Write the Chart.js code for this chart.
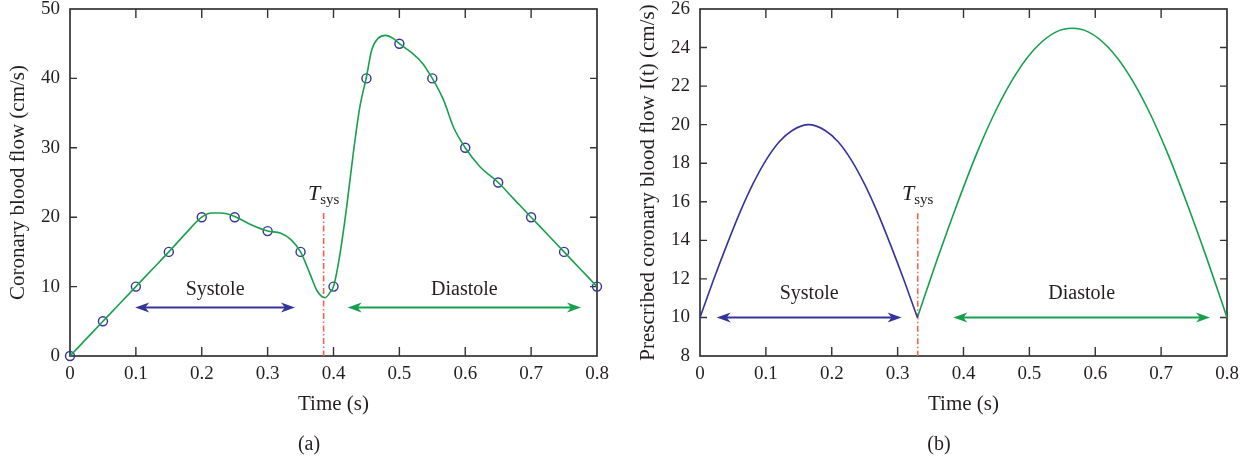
<!DOCTYPE html>
<html>
<head>
<meta charset="utf-8">
<script src="https://cdn.jsdelivr.net/npm/chart.js@4/dist/chart.umd.min.js"></script>
<style>
  html, body { margin: 0; padding: 0; background: #fff; }
  #wrap { position: relative; width: 1253px; height: 463px; }
  canvas { position: absolute; top: 0; }
</style>
</head>
<body>
<div id="wrap">
  <canvas id="chartA" width="626" height="463" style="left:0"></canvas>
  <canvas id="chartB" width="627" height="463" style="left:626px"></canvas>
</div>
<script>
'use strict';

// (a) measured samples
const sampleTime = [0, 0.05, 0.1, 0.15, 0.2, 0.25, 0.3, 0.35, 0.4, 0.45, 0.5, 0.55, 0.6, 0.65, 0.7, 0.75, 0.8];
const sampleFlow = [0, 5, 10, 15, 20, 20, 18, 15, 10, 40, 45, 40, 30, 25, 20, 15, 10];

// (a) fitted curve
const curveTime = [0, 0.025, 0.05, 0.075, 0.1, 0.125, 0.15, 0.175, 0.2, 0.215, 0.23, 0.25, 0.275, 0.3, 0.32, 0.335,
  0.35, 0.364, 0.375, 0.387, 0.395, 0.4, 0.41, 0.42, 0.43, 0.44, 0.45, 0.458, 0.468, 0.479, 0.49, 0.5,
  0.52, 0.535, 0.55, 0.567, 0.582, 0.6, 0.622, 0.65, 0.675, 0.7, 0.725, 0.75, 0.775, 0.8];
const curveFlow = [0, 2.5, 5, 7.5, 10, 12.5, 15, 17.6, 20, 20.6, 20.6, 20.1, 18.9, 18, 17.7, 16.8,
  15, 11.9, 9.4, 8.4, 9.2, 10, 14.8, 21.5, 29.2, 35.9, 40.2, 44.1, 45.8, 46.2, 45.8, 45,
  43.6, 42.2, 40, 36.9, 33, 30, 27.3, 25, 22.5, 20, 17.5, 15, 12.5, 10];

// (b) prescribed flow
const systoleTime = [0, 0.02, 0.04, 0.06, 0.08, 0.1, 0.12, 0.14, 0.165, 0.19, 0.21, 0.23, 0.25, 0.27, 0.29, 0.31, 0.33];
const systoleFlow = [10, 11.9, 13.7, 15.4, 16.9, 18.15, 19.1, 19.7, 20, 19.7, 19.1, 18.15, 16.9, 15.4, 13.7, 11.9, 10];
const diastoleTime = [0.33, 0.36, 0.39, 0.42, 0.45, 0.48, 0.51, 0.54, 0.565, 0.59, 0.62, 0.65, 0.68, 0.71, 0.74, 0.77, 0.8];
const diastoleFlow = [10, 13, 15.85, 18.5, 20.8, 22.65, 24, 24.8, 25, 24.8, 24, 22.65, 20.8, 18.5, 15.85, 13, 10];

// ticks
const xTickValues = [0, 0.1, 0.2, 0.3, 0.4, 0.5, 0.6, 0.7, 0.8];
const yTicksA = [0, 10, 20, 30, 40, 50];
const yTicksB = [8, 10, 12, 14, 16, 18, 20, 22, 24, 26];

// phase annotations (data units)
const phaseNames = ['Systole', 'Diastole'];
const phaseStartA = [0.099, 0.4215];
const phaseEndA = [0.3415, 0.7757];
const arrowFlowA = 7;
const phaseLabelFlowA = 9.5;
const phaseStartB = [0.0253, 0.3846];
const phaseEndB = [0.306, 0.7742];
const arrowFlowB = 10;
const phaseLabelFlowB = 11.25;
const tSysA = 0.385, tSysTopA = 20.6;
const tSysB = 0.3305, tSysTopB = 15.4;

const ink = '#231f20';
const blue = '#34349a';
const green = '#17a04c';
const red = '#f0644f';
const serif = '"Liberation Serif", "Times New Roman", serif';

function points(xs, ys) {
  return xs.map((t, i) => ({ x: t, y: ys[i] }));
}

function arrowHead(ctx, tipX, y, dir) {
  ctx.beginPath();
  ctx.moveTo(tipX, y);
  ctx.lineTo(tipX - dir * 14, y - 5);
  ctx.lineTo(tipX - dir * 10, y);
  ctx.lineTo(tipX - dir * 14, y + 5);
  ctx.closePath();
  ctx.fill();
}

function decor(p) {
  return {
    id: 'decor',
    beforeDatasetsDraw(chart) {
      const { ctx, chartArea: a, scales: { x, y } } = chart;
      ctx.save();
      ctx.strokeStyle = '#333';
      ctx.lineWidth = 1.4;
      ctx.beginPath();
      x.ticks.forEach(t => {
        const px = x.getPixelForValue(t.value);
        if (px <= a.left + 1 || px >= a.right - 1) return;
        ctx.moveTo(px, a.bottom); ctx.lineTo(px, a.bottom - 9);
        ctx.moveTo(px, a.top); ctx.lineTo(px, a.top + 9);
      });
      y.ticks.forEach(t => {
        const py = y.getPixelForValue(t.value);
        if (py <= a.top + 1 || py >= a.bottom - 1) return;
        ctx.moveTo(a.left, py); ctx.lineTo(a.left + 7, py);
        ctx.moveTo(a.right, py); ctx.lineTo(a.right - 7, py);
      });
      ctx.stroke();
      ctx.lineWidth = 1.7;
      ctx.strokeRect(a.left, a.top, a.right - a.left, a.bottom - a.top);

      // Tsys marker
      const lx = x.getPixelForValue(p.tSys);
      const top = y.getPixelForValue(p.tSysTop);
      ctx.strokeStyle = red;
      ctx.lineWidth = 1.6;
      ctx.setLineDash([6, 2.5, 1.5, 2.5]);
      ctx.beginPath();
      ctx.moveTo(lx, top); ctx.lineTo(lx, a.bottom);
      ctx.stroke();
      ctx.setLineDash([]);

      ctx.fillStyle = ink;
      ctx.textBaseline = 'alphabetic';
      ctx.textAlign = 'left';
      ctx.font = 'italic 22px ' + serif;
      const wT = ctx.measureText('T').width;
      ctx.font = '15px ' + serif;
      const wS = ctx.measureText('sys').width;
      const sx = lx - (wT + wS) / 2;
      ctx.font = 'italic 22px ' + serif;
      ctx.fillText('T', sx, top - 13.5);
      ctx.font = '15px ' + serif;
      ctx.fillText('sys', sx + wT, top - 9.5);

      // phase arrows and labels
      const py = y.getPixelForValue(p.arrowFlow);
      const ly = y.getPixelForValue(p.labelFlow);
      phaseNames.forEach((name, i) => {
        const x1 = x.getPixelForValue(p.start[i]);
        const x2 = x.getPixelForValue(p.end[i]);
        const c = i === 0 ? blue : green;
        ctx.strokeStyle = c;
        ctx.fillStyle = c;
        ctx.lineWidth = 2;
        ctx.beginPath();
        ctx.moveTo(x1 + 9, py); ctx.lineTo(x2 - 9, py);
        ctx.stroke();
        arrowHead(ctx, x1, py, -1);
        arrowHead(ctx, x2, py, 1);
        ctx.fillStyle = ink;
        ctx.font = '20px ' + serif;
        ctx.textAlign = 'center';
        ctx.textBaseline = 'middle';
        ctx.fillText(name, (x1 + x2) / 2, ly);
      });

      // panel tag
      ctx.font = '20px ' + serif;
      ctx.textAlign = 'center';
      ctx.textBaseline = 'middle';
      ctx.fillText(p.tag, (a.left + a.right) / 2 - 24.5, 445);
      ctx.restore();
    }
  };
}

function makeChart(id, p) {
  return new Chart(document.getElementById(id), {
    type: 'line',
    data: { datasets: p.datasets },
    options: {
      responsive: false,
      animation: false,
      devicePixelRatio: 1,
      layout: { padding: { left: 0, right: p.padRight, top: 9, bottom: 0 } },
      plugins: { legend: { display: false }, tooltip: { enabled: false } },
      scales: {
        x: {
          type: 'linear', min: 0, max: 0.8,
          afterBuildTicks: s => { s.ticks = xTickValues.map(v => ({ value: v })); },
          afterFit: s => { s.height = 107; s.paddingLeft = 0; s.paddingRight = 0; },
          grid: { display: false, drawTicks: false },
          border: { display: false },
          ticks: {
            font: { family: serif, size: 19 }, color: ink, padding: 7,
            maxRotation: 0, autoSkip: false, callback: v => String(v)
          },
          title: {
            display: true, text: 'Time (s)', color: ink,
            font: { family: serif, size: 21 }, padding: { top: 0, bottom: 46 }
          }
        },
        y: {
          type: 'linear', min: p.yTicks[0], max: p.yTicks[p.yTicks.length - 1],
          afterBuildTicks: s => { s.ticks = p.yTicks.map(v => ({ value: v })); },
          afterFit: s => { s.width = p.yWidth; s.paddingTop = 0; s.paddingBottom = 0; },
          grid: { display: false, drawTicks: false },
          border: { display: false },
          ticks: { font: { family: serif, size: 19 }, color: ink, padding: 10, callback: v => String(v) },
          title: {
            display: true, text: p.yTitle, color: ink,
            font: { family: serif, size: 21 }, padding: { top: p.yTitlePad, bottom: 0 }
          }
        }
      }
    },
    plugins: [decor(p)]
  });
}

makeChart('chartA', {
  tag: '(a)',
  padRight: 29,
  yWidth: 70,
  yTicks: yTicksA,
  yTitle: 'Coronary blood flow (cm/s)',
  yTitlePad: 6,
  tSys: tSysA, tSysTop: tSysTopA,
  start: phaseStartA, end: phaseEndA,
  arrowFlow: arrowFlowA, labelFlow: phaseLabelFlowA,
  datasets: [
    {
      data: points(curveTime, curveFlow),
      borderColor: green, borderWidth: 1.6, pointRadius: 0,
      cubicInterpolationMode: 'monotone', fill: false
    },
    {
      data: points(sampleTime, sampleFlow),
      showLine: false, pointRadius: 4.5, pointBorderWidth: 1.4,
      pointBorderColor: blue, pointBackgroundColor: 'rgba(0,0,0,0)', clip: false
    }
  ]
});

makeChart('chartB', {
  tag: '(b)',
  padRight: 26,
  yWidth: 74,
  yTicks: yTicksB,
  yTitle: 'Prescribed coronary blood flow I(t) (cm/s)',
  yTitlePad: 10,
  tSys: tSysB, tSysTop: tSysTopB,
  start: phaseStartB, end: phaseEndB,
  arrowFlow: arrowFlowB, labelFlow: phaseLabelFlowB,
  datasets: [
    {
      data: points(systoleTime, systoleFlow),
      borderColor: blue, borderWidth: 1.6, pointRadius: 0,
      cubicInterpolationMode: 'monotone', fill: false
    },
    {
      data: points(diastoleTime, diastoleFlow),
      borderColor: green, borderWidth: 1.6, pointRadius: 0,
      cubicInterpolationMode: 'monotone', fill: false
    }
  ]
});
</script>
</body>
</html>
